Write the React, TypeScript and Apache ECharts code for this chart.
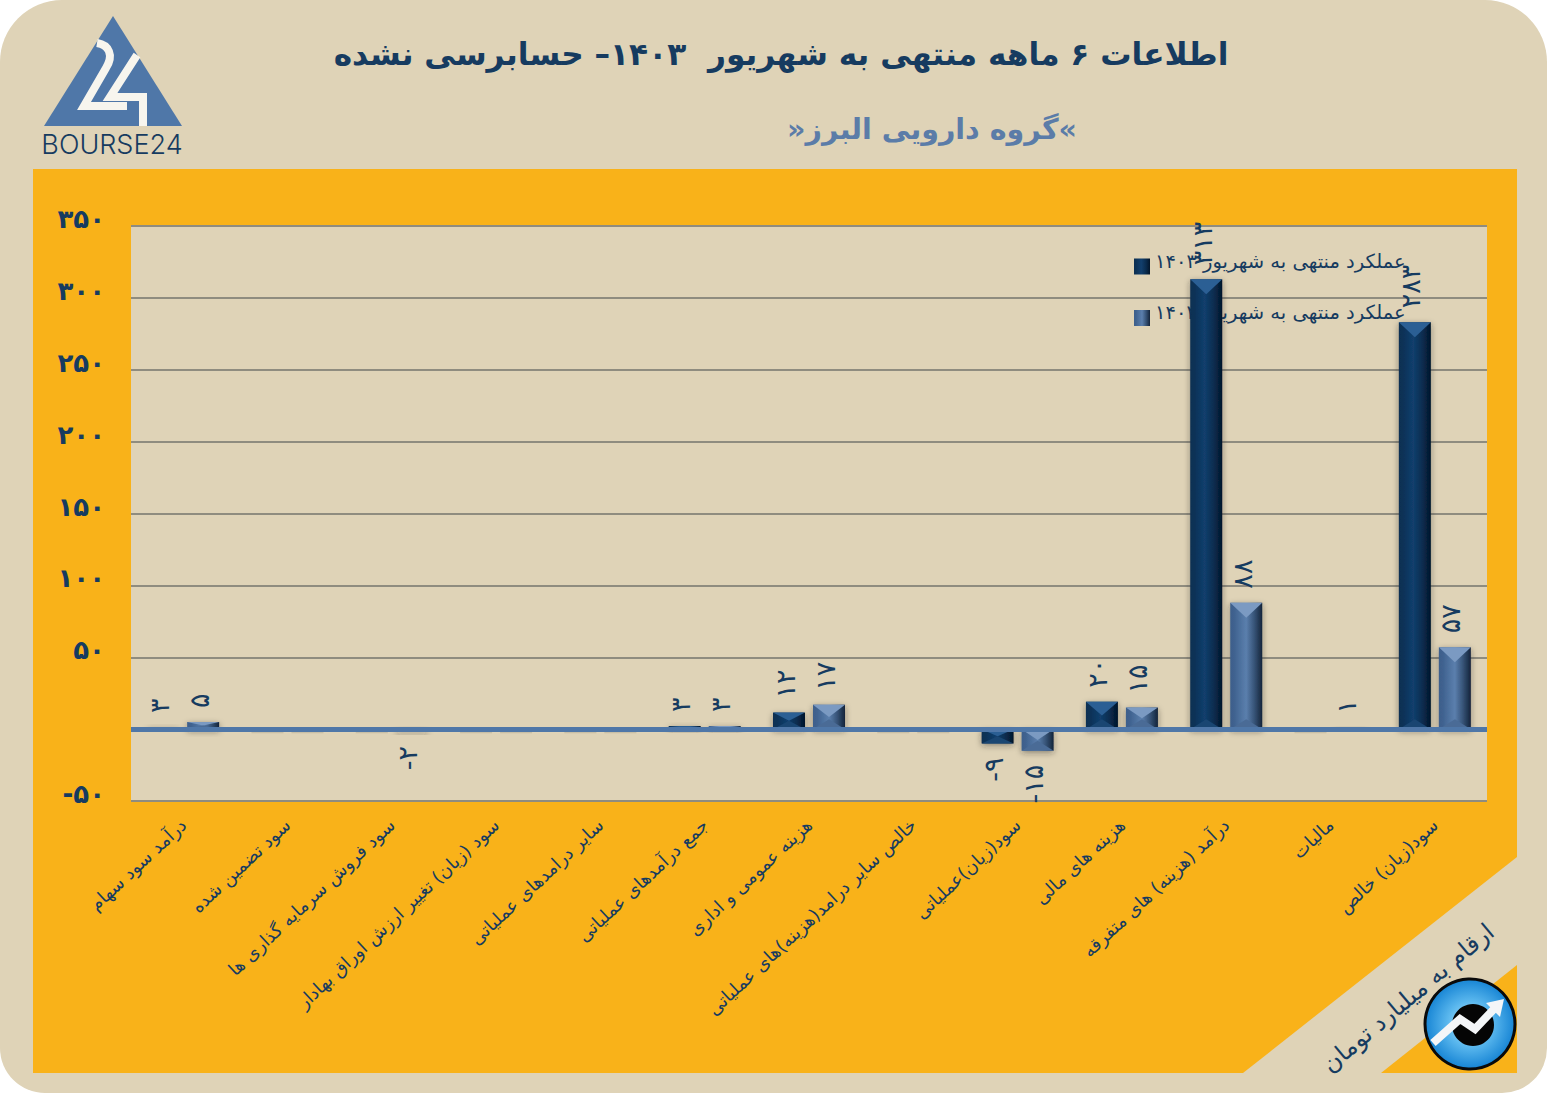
import React, { useEffect, useRef } from "react";
import * as echarts from "echarts";

const categories = [
  "درآمد سود سهام",
  "سود تضمین شده",
  "سود فروش سرمایه گذاری ها",
  "سود (زیان) تغییر ارزش اوراق بهادار",
  "سایر درامدهای عملیاتی",
  "جمع درآمدهای عملیاتی",
  "هزینه عمومی و اداری",
  "خالص سایر درامد(هزینه)های عملیاتی",
  "سود(زیان)عملیاتی",
  "هزینه های مالی",
  "درآمد (هزینه) های متفرقه",
  "مالیات",
  "سود(زیان) خالص",
];
// bar heights as drawn in the picture
const values1403 = [1.5, 0, 0, 0, 0, 2.2, 11.5, 0, -10, 19, 313, 0, 283];
const values1402 = [5, 0, -2, 0, 0, 2.2, 17, 0, -15, 15, 88, 1, 57];
// the printed value labels
const labels1403 = [3, 0, 0, 0, 0, 3, 12, 0, -9, 20, 313, 0, 283];
const labels1402 = [5, 0, -2, 0, 0, 3, 17, 0, -15, 15, 88, 1, 57];
const name1403 = "عملکرد منتهی به شهریور ۱۴۰۳";
const name1402 = "عملکرد منتهی به شهریور ۱۴۰۲";
const titleText = "اطلاعات ۶ ماهه منتهی به شهریور  ۱۴۰۳– حسابرسی نشده";
const subtitleText = "»گروه دارویی البرز«";
const unitText = "ارقام به میلیارد تومان";

const FONT = "'DejaVu Sans', sans-serif";
const NAVY = "#163b60";
const BEIGE = "#dfd3b7";
const YELLOW = "#f9b219";
const BLUE = "#4f77a8";

const fa = (n: number | string) =>
  String(n).replace(/\d/g, (d) => "۰۱۲۳۴۵۶۷۸۹"[Number(d)]);

const grad = (stops: [number, string][]) =>
  new echarts.graphic.LinearGradient(
    0, 0, 1, 0,
    stops.map(([offset, color]) => ({ offset, color }))
  );

const barData = (values: number[]) =>
  values.map((v) => ({
    value: v,
    label:
      v < 0
        ? { position: "bottom", align: "right" }
        : { position: "top", align: "left" },
  }));

const barSeries = (name: string, values: number[], labels: number[], color: any) => ({
  name,
  type: "bar",
  barWidth: 32,
  barGap: "25%",
  xAxisIndex: 0,
  yAxisIndex: 0,
  z: 3,
  data: barData(values),
  itemStyle: {
    color,
    shadowColor: "rgba(40,40,40,0.45)",
    shadowBlur: 6,
    shadowOffsetY: 2,
  },
  label: {
    show: true,
    rotate: 90,
    distance: 14,
    offset: [0, -4],
    verticalAlign: "middle",
    fontFamily: FONT,
    fontSize: 27,
    color: NAVY,
    formatter: (p: any) => (labels[p.dataIndex] === 0 ? "" : fa(labels[p.dataIndex])),
  },
});

const bevelSeries = (
  values: number[],
  offset: number,
  topColor: string,
  bottomColor: string
) => ({
  type: "custom",
  xAxisIndex: 0,
  yAxisIndex: 0,
  z: 4,
  silent: true,
  clip: false,
  encode: { x: 0, y: 1 },
  data: values.map((v, i) => [i, v]),
  renderItem: (_: any, api: any) => {
    const i = api.value(0);
    const v = api.value(1);
    const [cx, y0] = api.coord([i, 0]);
    const x = cx + offset;
    if (!v) {
      return {
        type: "rect",
        shape: { x: x - 16, y: y0 + 2, width: 32, height: 2 },
        style: { fill: "rgba(70,70,60,0.14)" },
      };
    }
    const y1 = api.coord([i, v])[1];
    const top = Math.min(y0, y1);
    const bot = Math.max(y0, y1);
    const d = Math.min(15, (bot - top) / 2);
    const small = Math.min(10, (bot - top) / 2);
    return {
      type: "group",
      children: [
        {
          type: "polygon",
          shape: { points: [[x - 16, top], [x + 16, top], [x, top + d]] },
          style: { fill: topColor },
        },
        {
          type: "polygon",
          shape: { points: [[x - 16, bot], [x + 16, bot], [x, bot - small]] },
          style: { fill: bottomColor },
        },
      ],
    };
  },
});

export default function App() {
  const ref = useRef<HTMLDivElement>(null);
  useEffect(() => {
    const digit2 = "M97 43 C109 45 114 55 106 68 L84 106 L127 106";
    const digit4 = "M137 55 L110 97 L143 97 L143 126";
    echarts.graphic.registerShape("two", echarts.graphic.extendPath(digit2, {}) as any);
    echarts.graphic.registerShape("four", echarts.graphic.extendPath(digit4, {}) as any);

    const chart = echarts.init(ref.current!, undefined, { renderer: "svg" });
    chart.setOption({
      animation: false,
      backgroundColor: "#ffffff",
      title: [
        {
          text: titleText,
          left: 776,
          top: 33,
          textAlign: "center",
          textStyle: { fontFamily: FONT, fontWeight: "bold", fontSize: 31.2, color: NAVY },
        },
        {
          text: subtitleText,
          left: 927,
          top: 110,
          textAlign: "center",
          textStyle: { fontFamily: FONT, fontWeight: "bold", fontSize: 28.5, color: "#5b7ca8" },
        },
      ],
      grid: {
        left: 131,
        right: 60,
        top: 226,
        height: 575,
        show: true,
        backgroundColor: BEIGE,
        borderWidth: 0,
        z: 0,
      },
      legend: {
        left: 1134,
        top: 251,
        padding: 0,
        orient: "vertical",
        itemWidth: 16,
        itemHeight: 16,
        itemGap: 28,
        z: 2,
        selectedMode: false,
        icon: "rect",
        data: [name1403, name1402],
        formatter: (n: string) => `{t|${n}}`,
        textStyle: {
          fontFamily: FONT,
          fontSize: 19.5,
          color: NAVY,
          rich: {
            t: {
              fontFamily: FONT,
              fontSize: 19.5,
              color: NAVY,
              padding: [0, 0, 11, 0],
            },
          },
        },
      },
      xAxis: [
        {
          type: "category",
          data: categories,
          position: "bottom",
          axisLine: { show: false, onZero: false },
          axisTick: { show: false },
          axisLabel: {
            interval: 0,
            rotate: 43,
            margin: 21,
            fontFamily: FONT,
            fontSize: 18,
            color: NAVY,
          },
        },
        {
          type: "category",
          data: categories,
          position: "bottom",
          z: 6,
          axisLine: {
            show: true,
            onZero: true,
            lineStyle: { color: BLUE, width: 5, cap: "butt" },
          },
          axisTick: { show: false },
          axisLabel: { show: false },
        },
      ],
      yAxis: {
        type: "value",
        min: -50,
        max: 350,
        interval: 50,
        z: 1,
        axisLine: { show: false },
        axisTick: { show: false },
        splitLine: { show: true, lineStyle: { color: "#8f8c7f", width: 2 } },
        axisLabel: {
          margin: 26,
          fontFamily: FONT,
          fontWeight: "bold",
          fontSize: 26,
          lineHeight: 14,
          verticalAlign: "bottom",
          color: NAVY,
          formatter: (v: number) => (v === 0 ? "" : fa(v)),
        },
      },
      series: [
        barSeries(
          name1403,
          values1403,
          labels1403,
          grad([
            [0, "#0d2f52"],
            [0.12, "#0c3156"],
            [0.45, "#123f6d"],
            [0.75, "#0a2c4e"],
            [1, "#03152a"],
          ])
        ),
        barSeries(
          name1402,
          values1402,
          labels1402,
          grad([
            [0, "#3e5f8b"],
            [0.12, "#3f628f"],
            [0.5, "#5b7fad"],
            [0.75, "#375478"],
            [1, "#14243a"],
          ])
        ),
        bevelSeries(values1403, -20, "#2b5f94", "#1a4672"),
        bevelSeries(values1402, 20, "#7b9ac2", "#4a6b96"),
      ],
      graphic: {
        elements: [
          {
            type: "rect",
            z: -20,
            shape: { x: 0, y: 0, width: 1547, height: 1093, r: [62, 62, 45, 45] },
            style: { fill: BEIGE },
          },
          {
            type: "polygon",
            z: -10,
            shape: {
              points: [[33, 169], [1517, 169], [1517, 857], [1243, 1073], [33, 1073]],
            },
            style: { fill: YELLOW },
          },
          {
            type: "polygon",
            z: -10,
            shape: { points: [[1517, 965], [1517, 1073], [1381, 1073]] },
            style: { fill: YELLOW },
          },
          {
            type: "polygon",
            z: 10,
            shape: { points: [[113, 16], [44, 126], [182, 126]] },
            style: { fill: BLUE },
          },
          { type: "two", z: 11, style: { fill: "none", stroke: "#f7f5ee", lineWidth: 8 } },
          { type: "four", z: 11, style: { fill: "none", stroke: "#f7f5ee", lineWidth: 8 } },
          {
            type: "text",
            z: 11,
            x: 112,
            y: 144,
            style: {
              text: "BOURSE24",
              fontFamily: "Inter",
              fontSize: 27,
              fontWeight: 300,
              fill: NAVY,
              align: "center",
              verticalAlign: "middle",
            },
          },
          {
            type: "text",
            z: 11,
            x: 1408,
            y: 998,
            rotation: 0.7,
            style: {
              text: unitText,
              fontFamily: FONT,
              fontSize: 24,
              fill: NAVY,
              align: "center",
              verticalAlign: "middle",
            },
          },
          {
            type: "circle",
            z: 12,
            shape: { cx: 1470, cy: 1024, r: 45 },
            style: {
              fill: new echarts.graphic.RadialGradient(0.5, 0.5, 0.5, [
                { offset: 0, color: "#b9e4fa" },
                { offset: 0.5, color: "#5bb8ee" },
                { offset: 1, color: "#1684d4" },
              ]),
              stroke: "#0a0a0a",
              lineWidth: 3,
            },
          },
          {
            type: "circle",
            z: 13,
            shape: { cx: 1473, cy: 1025, r: 21 },
            style: { fill: "#050505" },
          },
          {
            type: "polyline",
            z: 14,
            shape: { points: [[1433, 1043], [1460, 1019], [1475, 1029], [1494, 1009]] },
            style: { fill: "none", stroke: "#f4f6f8", lineWidth: 8 },
          },
          {
            type: "polygon",
            z: 14,
            shape: { points: [[1504, 999], [1486, 1003], [1500, 1017]] },
            style: { fill: "#f4f6f8" },
          },
        ],
      },
    } as any);
    return () => chart.dispose();
  }, []);
  return (
    <div
      ref={ref}
      style={{ position: "fixed", left: 0, top: 0, width: 1547, height: 1102 }}
    />
  );
}
